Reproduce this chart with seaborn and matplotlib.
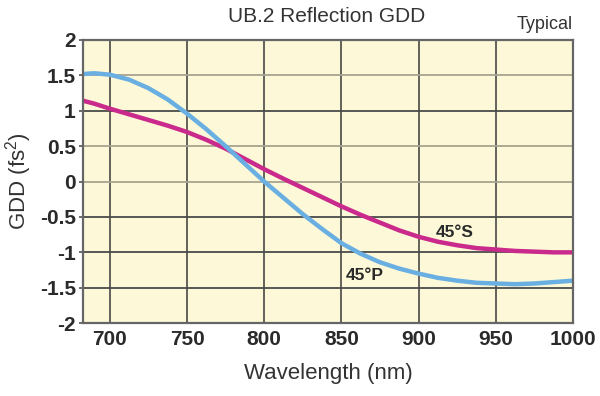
import matplotlib
matplotlib.use("Agg")
import matplotlib.pyplot as plt
import pandas as pd
import seaborn as sns

# ── Data ───────────────────────────────────────────────────────────────────
wavelength = [683, 690, 700, 712.5, 725, 737.5, 750, 762.5, 775, 787.5, 800,
              812.5, 825, 837.5, 850, 862.5, 875, 887.5, 900, 912.5, 925,
              937.5, 950, 962.5, 975, 987.5, 1000]
gdd_p = [1.52, 1.53, 1.51, 1.44, 1.32, 1.16, 0.96, 0.74, 0.50, 0.25, 0.0,
         -0.23, -0.46, -0.67, -0.87, -1.02, -1.14, -1.23, -1.30, -1.36, -1.40,
         -1.43, -1.44, -1.45, -1.44, -1.42, -1.40]
gdd_s = [1.14, 1.10, 1.03, 0.95, 0.87, 0.79, 0.70, 0.59, 0.465, 0.32, 0.175,
         0.04, -0.09, -0.22, -0.35, -0.47, -0.58, -0.69, -0.78, -0.85, -0.90,
         -0.94, -0.96, -0.98, -0.99, -1.00, -1.00]
x_ticks = [700, 750, 800, 850, 900, 950, 1000]
y_ticks = [-2, -1.5, -1, -0.5, 0, 0.5, 1, 1.5, 2]
y_tick_labels = ["-2", "-1.5", "-1", "-0.5", "0", "0.5", "1", "1.5", "2"]

df = pd.DataFrame({
    "wavelength": wavelength * 2,
    "gdd": gdd_s + gdd_p,
    "pol": ["45°S"] * len(gdd_s) + ["45°P"] * len(gdd_p),
})

COLORS = {"45°S": "#c92a8c", "45°P": "#6aafe2"}

sns.set_theme(style="white")
plt.rcParams["font.family"] = ["Liberation Sans", "DejaVu Sans"]
plt.rcParams["mathtext.default"] = "regular"

fig = plt.figure(figsize=(6, 3.96), dpi=100)
ax = fig.add_axes([0.138, 0.184, 0.817, 0.715])
ax.set_facecolor("#fdf9d8")

# grid
for x in x_ticks:
    ax.axvline(x, color="#3a3a3a", lw=1.1, zorder=1)
for y in y_ticks[1:-1]:
    c = "#a8a390" if y in (1.5, 0.5, 0) else "#4a4a4a"
    ax.axhline(y, color=c, lw=1.3, zorder=1)

sns.lineplot(data=df, x="wavelength", y="gdd", hue="pol", palette=COLORS,
             linewidth=3.2, legend=False, sort=False, estimator=None,
             ax=ax, zorder=3)

ax.set_xlim(682.5, 1000)
ax.set_ylim(-2, 2)
ax.set_xticks(x_ticks)
ax.set_yticks(y_ticks)
ax.set_yticklabels(y_tick_labels)

for lbl in ax.get_xticklabels() + ax.get_yticklabels():
    lbl.set_fontweight("bold")
    lbl.set_fontsize(15)
    lbl.set_color("#2a2a2a")
ax.tick_params(axis="y", length=3, width=1.2, color="#555", pad=2, left=True)
ax.tick_params(axis="x", length=0, pad=5)

for sp in ax.spines.values():
    sp.set_color("#666666")
    sp.set_linewidth(1.6)
    sp.set_zorder(4)

ax.set_xlabel("Wavelength (nm)", fontsize=16, color="#333", labelpad=10)
ax.set_ylabel("GDD (fs$^2$)", fontsize=16, color="#333", labelpad=4)

fig.text(0.545, 0.958, "UB.2 Reflection GDD", ha="center", va="center",
         fontsize=15, color="#333")
fig.text(0.955, 0.937, "Typical", ha="right", va="center",
         fontsize=13, color="#333")

ax.text(911, -0.78, "45°S", fontsize=12.5, fontweight="bold",
        color="#2a2a2a", zorder=5)
ax.text(853, -1.39, "45°P", fontsize=12.5, fontweight="bold",
        color="#2a2a2a", zorder=5)

fig.savefig("out.png", dpi=100)
